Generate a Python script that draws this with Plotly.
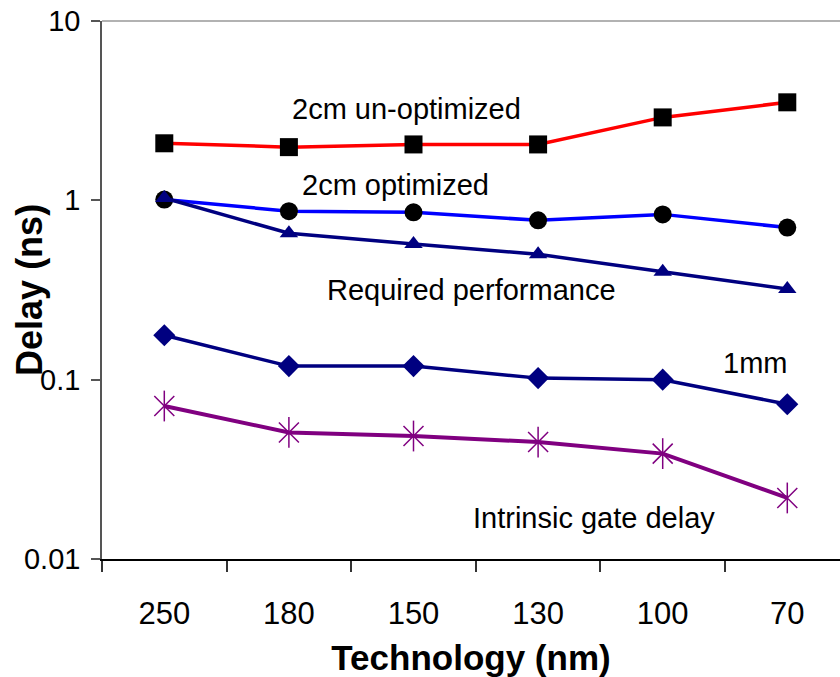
import plotly.graph_objects as go

categories = ["250", "180", "150", "130", "100", "70"]
unoptimized_2cm = [2.08, 1.98, 2.05, 2.05, 2.90, 3.52]
optimized_2cm = [1.01, 0.87, 0.857, 0.774, 0.835, 0.705]
required_perf = [1.03, 0.655, 0.57, 0.50, 0.40, 0.32]
wire_1mm = [0.177, 0.119, 0.119, 0.102, 0.100, 0.073]
intrinsic_gate = [0.0713, 0.0508, 0.0485, 0.0449, 0.0387, 0.0219]
y_tickvals = [0.01, 0.1, 1, 10]
y_ticktext = ["0.01", "0.1", "1", "10"]

FONT = "Liberation Sans, Arial, sans-serif"

fig = go.Figure()
fig.add_trace(go.Scatter(x=categories, y=unoptimized_2cm, mode="lines+markers",
                         line=dict(color="#ff0000", width=3.5),
                         marker=dict(symbol="square", size=18, color="black")))
fig.add_trace(go.Scatter(x=categories, y=optimized_2cm, mode="lines+markers",
                         line=dict(color="#0000ff", width=3.5),
                         marker=dict(symbol="circle", size=18, color="black")))
fig.add_trace(go.Scatter(x=categories, y=required_perf, mode="lines+markers",
                         line=dict(color="#000080", width=3.5),
                         marker=dict(symbol="triangle-up", size=16, color="#000080")))
fig.add_trace(go.Scatter(x=categories, y=wire_1mm, mode="lines+markers",
                         line=dict(color="#000080", width=3.5),
                         marker=dict(symbol="diamond", size=17, color="#000080")))
fig.add_trace(go.Scatter(x=categories, y=intrinsic_gate, mode="lines+markers",
                         line=dict(color="#800080", width=4),
                         marker=dict(symbol="x-thin-open", size=20, color="#800080",
                                     line=dict(color="#800080", width=1.5))))
fig.add_trace(go.Scatter(x=categories, y=intrinsic_gate, mode="markers",
                         marker=dict(symbol="line-ns-open", size=22, color="#800080",
                                     line=dict(color="#800080", width=1.5))))

labels = [
    ("2cm un-optimized", 1.94, 0.508),
    ("2cm optimized", 1.854, 0.084),
    ("Required performance", 2.464, -0.502),
    ("1mm", 4.743, -0.909),
    ("Intrinsic gate delay", 3.45, -1.774),
]
for text, xi, ylog in labels:
    fig.add_annotation(x=xi, y=ylog, xref="x", yref="y", text=text, showarrow=False,
                       xanchor="center", yanchor="middle",
                       font=dict(family=FONT, size=29, color="black"))

fig.add_annotation(x=-0.099, y=0.5, xref="paper", yref="paper", text="<b>Delay (ns)</b>",
                   textangle=-90, showarrow=False, xanchor="center", yanchor="middle",
                   font=dict(family=FONT, size=36, color="black"))

fig.add_shape(type="line", xref="paper", yref="paper", x0=0, x1=1, y0=1, y1=1,
              line=dict(color="#999999", width=1.5), layer="above")

fig.update_layout(
    width=840, height=677,
    margin=dict(l=102, r=0, t=21, b=118),
    plot_bgcolor="white", paper_bgcolor="white",
    showlegend=False,
    font=dict(family=FONT, color="black"),
)
fig.update_xaxes(type="category", range=[-0.5, 5.423], showgrid=False, automargin=False,
                 showline=True, linecolor="black", linewidth=1.5,
                 ticks="outside", tickson="boundaries", ticklen=11, tickcolor="#333333",
                 tickwidth=1.5, tickfont=dict(family=FONT, size=31, color="black"),
                 ticklabelstandoff=26,
                 title=dict(text="<b>Technology (nm)</b>", standoff=16,
                            font=dict(family=FONT, size=35, color="black")))
fig.update_yaxes(type="log", range=[-2, 1], showgrid=False, automargin=False,
                 showline=True, linecolor="#555555", linewidth=1.5,
                 ticks="outside", ticklen=9, tickcolor="#555555", tickwidth=1.5,
                 tickvals=y_tickvals, ticktext=y_ticktext,
                 tickfont=dict(family=FONT, size=29, color="black"),
                 ticklabelstandoff=5, ticklabeloverflow="allow")

fig.write_html("out.html", config={"displayModeBar": False},
               post_script="document.body.style.margin='0';")
